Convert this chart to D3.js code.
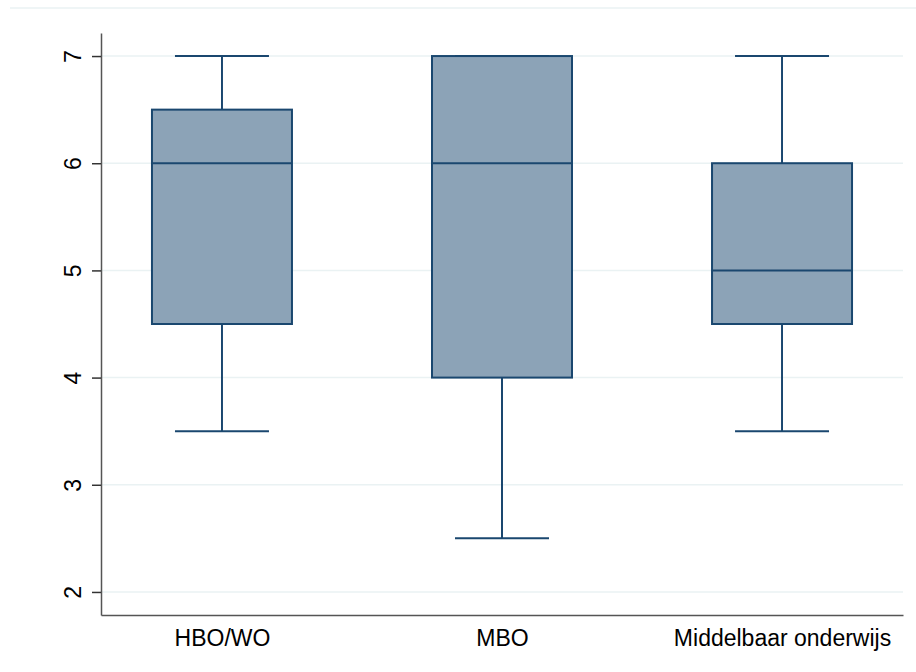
<!DOCTYPE html>
<html><head><meta charset="utf-8">
<script src="https://cdn.jsdelivr.net/npm/d3@7"></script>
<style>body{margin:0;background:#fff}svg{display:block}text{font-family:"Liberation Sans",Arial,Helvetica,sans-serif}</style>
</head><body><svg id="c" width="916" height="672"></svg>
<script>
const categories = ["HBO/WO", "MBO", "Middelbaar onderwijs"];
const lowerWhisker = [3.5, 2.5, 3.5];
const q1 = [4.5, 4, 4.5];
const median = [6, 6, 5];
const q3 = [6.5, 7, 6];
const upperWhisker = [7, 7, 7];
const yTicks = [2, 3, 4, 5, 6, 7];

(function () {
const svg = d3.select("#c");
const pLeft = 101, pRight = 903, pTop = 33, pBottom = 615;
const y = d3.scaleLinear().domain([1.785, 7.215]).range([pBottom, pTop]);
const x = d3.scalePoint().domain(categories).range([pLeft, pRight]).padding(0.432);
const boxW = 140, capW = 94;
const stroke = "#1a476f", fill = "#8ca3b7";

svg.append("line").attr("x1", 10).attr("x2", 916).attr("y1", 8).attr("y2", 8)
  .attr("stroke", "#eaf2f3").attr("stroke-width", 1.5);

svg.append("g").selectAll("line").data(yTicks).join("line")
  .attr("x1", pLeft).attr("x2", pRight)
  .attr("y1", d => y(d)).attr("y2", d => y(d))
  .attr("stroke", "#eaf2f3").attr("stroke-width", 1.5);

const data = categories.map((c, i) => ({c, lo: lowerWhisker[i], q1: q1[i], med: median[i], q3: q3[i], hi: upperWhisker[i]}));
const g = svg.append("g").selectAll("g").data(data).join("g");
g.append("line").attr("x1", d => x(d.c)).attr("x2", d => x(d.c))
  .attr("y1", d => y(d.hi)).attr("y2", d => y(d.q3)).attr("stroke", stroke).attr("stroke-width", 2);
g.append("line").attr("x1", d => x(d.c)).attr("x2", d => x(d.c))
  .attr("y1", d => y(d.q1)).attr("y2", d => y(d.lo)).attr("stroke", stroke).attr("stroke-width", 2);
g.append("line").attr("x1", d => x(d.c) - capW/2).attr("x2", d => x(d.c) + capW/2)
  .attr("y1", d => y(d.hi)).attr("y2", d => y(d.hi)).attr("stroke", stroke).attr("stroke-width", 2);
g.append("line").attr("x1", d => x(d.c) - capW/2).attr("x2", d => x(d.c) + capW/2)
  .attr("y1", d => y(d.lo)).attr("y2", d => y(d.lo)).attr("stroke", stroke).attr("stroke-width", 2);
g.append("rect").attr("x", d => x(d.c) - boxW/2).attr("width", boxW)
  .attr("y", d => y(d.q3)).attr("height", d => y(d.q1) - y(d.q3))
  .attr("fill", fill).attr("stroke", stroke).attr("stroke-width", 2);
g.append("line").attr("x1", d => x(d.c) - boxW/2).attr("x2", d => x(d.c) + boxW/2)
  .attr("y1", d => y(d.med)).attr("y2", d => y(d.med)).attr("stroke", stroke).attr("stroke-width", 2);

const ya = svg.append("g").attr("transform", `translate(${pLeft},0)`)
  .call(d3.axisLeft(y).tickValues(yTicks).tickSize(9).tickSizeOuter(0).tickFormat(d3.format("d")));
ya.select(".domain").attr("stroke", "#555").attr("stroke-width", 1.5);
ya.selectAll(".tick line").attr("stroke", "#333").attr("stroke-width", 1.5);
ya.selectAll(".tick text").attr("font-size", 23).attr("fill", "#000")
  .attr("x", 0).attr("dy", 0).attr("text-anchor", "middle")
  .attr("transform", "translate(-28,0) rotate(-90)").attr("dominant-baseline", "central");

const xa = svg.append("g").attr("transform", `translate(0,${pBottom})`)
  .call(d3.axisBottom(x).tickSize(0).tickSizeOuter(0));
xa.select(".domain").attr("stroke", "#555").attr("stroke-width", 1.5);
xa.selectAll(".tick text").attr("font-size", 23).attr("fill", "#000").attr("dy", 0).attr("y", 31);
})();
</script></body></html>
